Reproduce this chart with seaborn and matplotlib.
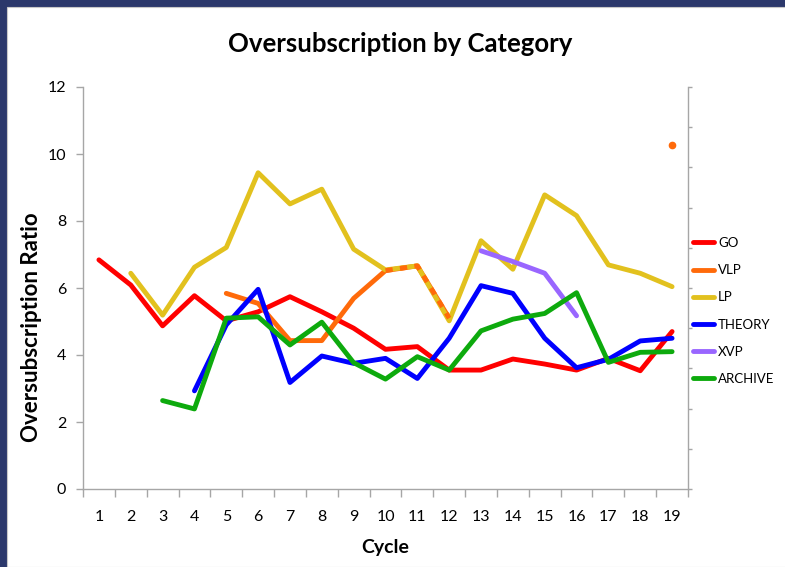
import numpy as np
import pandas as pd
import seaborn as sns
import matplotlib.pyplot as plt
from matplotlib.patches import Rectangle
from matplotlib.ticker import MultipleLocator

# data
cycles = list(range(1, 20))
nan = np.nan
go = [6.84, 6.09, 4.87, 5.77, 5.02, 5.29, 5.74, 5.29, 4.80, 4.17,
      4.25, 3.55, 3.55, 3.88, 3.73, 3.55, 3.90, 3.53, 4.70]
vlp = [nan, nan, nan, nan, 5.84, 5.54, 4.43, 4.43, 5.69, 6.52,
       6.66, 5.10, nan, nan, nan, nan, nan, nan, 10.27]
lp = [nan, 6.44, 5.19, 6.62, 7.21, 9.44, 8.51, 8.95, 7.16, 6.54,
      6.66, 5.02, 7.41, 6.56, 8.78, 8.16, 6.69, 6.44, 6.04]
theory = [nan, nan, nan, 2.93, 4.90, 5.96, 3.18, 3.97, 3.75, 3.90,
          3.30, 4.50, 6.07, 5.84, 4.50, 3.62, 3.87, 4.42, 4.50]
xvp = [nan, nan, nan, nan, nan, nan, nan, nan, nan, nan,
       nan, nan, 7.11, 6.79, 6.44, 5.17, nan, nan, nan]
archive = [nan, nan, 2.64, 2.39, 5.10, 5.14, 4.30, 4.98, 3.77, 3.28,
           3.95, 3.55, 4.72, 5.07, 5.24, 5.86, 3.78, 4.08, 4.10]

categories = ["GO", "VLP", "LP", "THEORY", "XVP", "ARCHIVE"]
series = [go, vlp, lp, theory, xvp, archive]
colors = ["#FF0000", "#FF6A0A", "#E2C11E", "#0000FF", "#9966FF", "#0DAA0D"]
palette = dict(zip(categories, colors))

# long form table, split each series into runs without gaps
rows = []
for name, vals in zip(categories, series):
    seg = 0
    prev = False
    for c, v in zip(cycles, vals):
        if np.isnan(v):
            prev = False
            continue
        if not prev:
            seg += 1
        prev = True
        rows.append({"Cycle": c, "Ratio": v, "Category": name, "seg": seg})
df = pd.DataFrame(rows)

sns.set_theme(style="white")
plt.rcParams["font.family"] = ["Lato", "DejaVu Sans"]
plt.rcParams["text.color"] = "black"

fig = plt.figure(figsize=(7.85, 5.67), dpi=100)
fig.patch.set_facecolor("#2B386B")
fig.patches.append(Rectangle((7 / 785, 0), 1, 1 - 7 / 567, transform=fig.transFigure,
                             facecolor="white", edgecolor="#C8C8C8", lw=0.8, zorder=-10))

ax = fig.add_axes([83 / 785, 1 - 489 / 567, 605 / 785, 402 / 567])
ax.set_facecolor("none")

sns.lineplot(data=df, x="Cycle", y="Ratio", hue="Category", hue_order=categories,
             palette=palette, units="seg", estimator=None, linewidth=3.5,
             sort=False, ax=ax)

# VLP coincides with LP for cycles 10-12: dashed overlay
vlp_s = pd.Series(vlp, index=cycles)
ov = vlp_s.loc[10:12]
ax.plot(ov.index, ov.values, color=palette["VLP"], lw=3.5, ls=(0, (1.5, 1.5)), zorder=5)
# isolated VLP point
single = df[(df["Category"] == "VLP") & (df["Cycle"] == 19)]
ax.plot(single["Cycle"], single["Ratio"], "o", color=palette["VLP"], ms=4.5, zorder=5)

ax.set_xlim(0.5, 19.5)
ax.set_ylim(0, 12)
ax.set_xticks(cycles)
ax.xaxis.set_minor_locator(MultipleLocator(1, offset=0.5))
ax.set_yticks(range(0, 13, 2))
ax.tick_params(axis="x", which="major", length=0, pad=15, labelsize=11.5, labelcolor="black")
ax.tick_params(axis="x", which="minor", length=6, width=1, color="#A6A6A6", bottom=True)
ax.tick_params(axis="y", length=5, width=1, color="#A6A6A6", pad=7, labelsize=11.5,
               left=True, labelcolor="black")
for s in ["left", "bottom", "right"]:
    ax.spines[s].set_color("#A6A6A6")
    ax.spines[s].set_linewidth(1)
ax.spines["top"].set_visible(False)
ax.set_xlabel("")
ax.set_ylabel("")

ax2 = ax.twinx()
ax2.set_ylim(0, 10)
ax2.yaxis.set_major_locator(MultipleLocator(1))
ax2.tick_params(axis="y", length=3, width=1, color="#A6A6A6", labelright=False, right=True)
for s in ax2.spines.values():
    s.set_visible(False)

sns.move_legend(ax, loc="center left", bbox_to_anchor=(1.008, 0.443), frameon=False,
                title=None, fontsize=9.5, handlelength=1.6, handletextpad=0.3,
                labelspacing=1.15, borderpad=0, borderaxespad=0)

fig.text(0.51, 0.922, "Oversubscription by Category", ha="center", va="center",
         fontsize=18.5, fontweight="bold")
fig.text(0.04, 0.423, "Oversubscription Ratio", ha="center", va="center",
         rotation=90, fontsize=16, fontweight="bold")
fig.text(385 / 785, 1 - 548 / 567, "Cycle", ha="center", va="center",
         fontsize=14, fontweight="bold")

fig.savefig("out.png", dpi=100, facecolor=fig.get_facecolor())
